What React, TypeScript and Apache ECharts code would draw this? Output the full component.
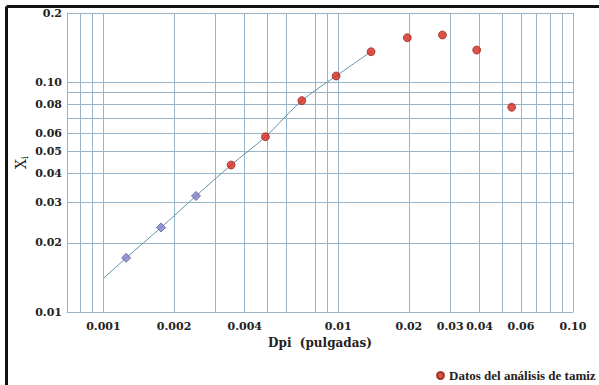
import React, { useEffect, useRef } from "react";
import * as echarts from "echarts";

// Sieve analysis data (red dots)
const sieveX = [0.0035, 0.0049, 0.007, 0.0098, 0.0138, 0.0197, 0.0278, 0.0389, 0.0548];
const sieveY = [0.0436, 0.0579, 0.0831, 0.1064, 0.1357, 0.1562, 0.1605, 0.138, 0.0778];
// Extrapolated points (blue diamonds)
const extraX = [0.00125, 0.00176, 0.00248];
const extraY = [0.0172, 0.0233, 0.032];
// Fitted line
const fitX = [0.001, 0.00125, 0.00176, 0.00248, 0.0035, 0.0049, 0.007, 0.0098, 0.0138];
const fitY = [0.014, 0.0172, 0.0233, 0.032, 0.0436, 0.0579, 0.0831, 0.1064, 0.1357];

// Tick labels
const xTickValues = [0.001, 0.002, 0.004, 0.01, 0.02, 0.03, 0.04, 0.06, 0.1];
const xTickLabels = ["0.001", "0.002", "0.004", "0.01", "0.02", "0.03", "0.04", "0.06", "0.10"];
const yTickValues = [0.01, 0.02, 0.03, 0.04, 0.05, 0.06, 0.08, 0.1, 0.2];
const yTickLabels = ["0.01", "0.02", "0.03", "0.04", "0.05", "0.06", "0.08", "0.10", "0.2"];
// Grid lines
const xGridValues = [0.0008, 0.0009, 0.001, 0.002, 0.003, 0.004, 0.005, 0.006, 0.008, 0.009, 0.01, 0.02, 0.03, 0.04, 0.05, 0.06, 0.07, 0.08, 0.09, 0.1];
const yGridValues = [0.02, 0.03, 0.04, 0.05, 0.06, 0.07, 0.08, 0.09, 0.1, 0.2];

const xMin = 0.0007;
const xMax = 0.1;
const yMin = 0.01;
const yMax = 0.2;

const L = (v: number) => Math.log10(v);

function nearestLabel(v: number, vals: number[], labels: string[]) {
  let best = 0;
  let bd = Infinity;
  vals.forEach((t, i) => {
    const d = Math.abs(L(t) - v);
    if (d < bd) {
      bd = d;
      best = i;
    }
  });
  return labels[best];
}

const FONT = "DejaVu Serif";
const LEGEND_FONT = "Liberation Serif";
const GRID_COLOR = "#98b4c8";

export default function App() {
  const ref = useRef<HTMLDivElement>(null);
  useEffect(() => {
    document.body.style.margin = "0";
    if (!ref.current) return;
    const chart = echarts.init(ref.current, null, { renderer: "svg" });
    const toPts = (xs: number[], ys: number[]) => xs.map((x, i) => [L(x), L(ys[i])]);
    chart.setOption({
      animation: false,
      backgroundColor: "#ffffff",
      textStyle: { fontFamily: FONT },
      grid: { left: 67, right: 26, top: 13, bottom: 73 },
      xAxis: {
        type: "value",
        min: L(xMin),
        max: L(xMax),
        name: "Dpi  (pulgadas)",
        nameLocation: "middle",
        nameGap: 23,
        nameTextStyle: { fontFamily: FONT, fontWeight: "bold", fontSize: 12, color: "#222" },
        axisLine: { show: true, lineStyle: { color: GRID_COLOR, width: 1 } },
        axisTick: { show: false, customValues: xGridValues.map(L) },
        axisLabel: {
          customValues: xTickValues.map(L),
          formatter: (v: number) => nearestLabel(v, xTickValues, xTickLabels),
          fontFamily: FONT,
          fontWeight: "bold",
          fontSize: 11,
          color: "#222",
          margin: 9,
        },
        splitLine: { show: true, lineStyle: { color: GRID_COLOR, width: 1 } },
      },
      yAxis: {
        type: "value",
        min: L(yMin),
        max: L(yMax),
        name: "X{s|i}",
        nameLocation: "middle",
        nameGap: 38,
        nameMoveOverlap: false,
        nameRotate: 90,
        nameTextStyle: {
          fontFamily: FONT,
          fontSize: 14,
          color: "#222",
          rich: { s: { fontFamily: FONT, fontSize: 10, color: "#222", verticalAlign: "bottom", padding: [6, 0, 0, 0] } },
        },
        axisLine: { show: true, lineStyle: { color: GRID_COLOR, width: 1 } },
        axisTick: { show: false, customValues: yGridValues.map(L) },
        axisLabel: {
          customValues: yTickValues.map(L),
          formatter: (v: number) => nearestLabel(v, yTickValues, yTickLabels),
          fontFamily: FONT,
          fontWeight: "bold",
          fontSize: 11,
          color: "#222",
          margin: 5,
        },
        splitLine: { show: true, lineStyle: { color: GRID_COLOR, width: 1 } },
      },
      legend: {
        data: ["Datos del análisis de tamiz"],
        left: 431,
        top: 364,
        itemWidth: 7,
        itemHeight: 7,
        itemGap: 4,
        textStyle: { fontFamily: LEGEND_FONT, fontWeight: "bold", fontSize: 13, color: "#222" },
      },
      series: [
        {
          name: "Ajuste",
          type: "line",
          data: toPts(fitX, fitY),
          smooth: 0.3,
          symbol: "none",
          lineStyle: { color: "#5f93a6", width: 1 },
          z: 2,
        },
        {
          name: "Extrapolado",
          type: "scatter",
          data: toPts(extraX, extraY),
          symbol: "diamond",
          symbolSize: 9,
          itemStyle: { color: "#7f80c8", borderColor: "#5a5a9a", borderWidth: 1 },
          z: 3,
        },
        {
          name: "Datos del análisis de tamiz",
          type: "scatter",
          data: toPts(sieveX, sieveY),
          symbol: "circle",
          symbolSize: 8,
          itemStyle: { color: "#d4271c", borderColor: "#8e1a12", borderWidth: 0.8 },
          z: 3,
        },
      ],
      graphic: [
        {
          type: "line",
          shape: { x1: 6.5, y1: 6.5, x2: 599, y2: 6.5 },
          style: { stroke: "#111", lineWidth: 3 },
        },
        {
          type: "line",
          shape: { x1: 6.5, y1: 6.5, x2: 6.5, y2: 385 },
          style: { stroke: "#111", lineWidth: 3 },
        },
      ],
    });
    return () => chart.dispose();
  }, []);
  return <div ref={ref} style={{ width: 599, height: 385 }} />;
}
